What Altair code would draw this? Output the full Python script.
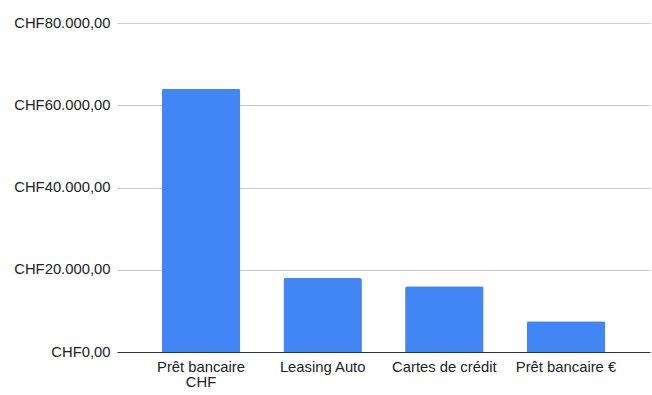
import altair as alt
import pandas as pd

categories = ["Prêt bancaire CHF", "Leasing Auto", "Cartes de crédit", "Prêt bancaire €"]
values = [64000, 18000, 16000, 7500]
y_ticks = [0, 20000, 40000, 60000, 80000]

df = pd.DataFrame({"cat": categories, "val": values})

FONT = "Liberation Sans"
FS = 14.8

chart = (
    alt.Chart(df)
    .mark_bar(color="#4285F4", cornerRadiusTopLeft=2, cornerRadiusTopRight=2)
    .encode(
        x=alt.X(
            "cat:N",
            sort=categories,
            title=None,
            scale=alt.Scale(paddingInner=0.355, paddingOuter=0.368),
            axis=alt.Axis(
                labelAngle=0,
                ticks=False,
                domainColor="#333333",
                domainWidth=1,
                labelFont=FONT,
                labelFontSize=FS,
                labelColor="#222222",
                labelPadding=7,
                labelLineHeight=15,
                labelExpr="datum.label == 'Prêt bancaire CHF' ? ['Prêt bancaire', 'CHF'] : datum.label",
            ),
        ),
        y=alt.Y(
            "val:Q",
            title=None,
            scale=alt.Scale(domain=[0, 80000], nice=False),
            axis=alt.Axis(
                values=y_ticks,
                ticks=False,
                domain=False,
                gridColor="#cccccc",
                labelFont=FONT,
                labelFontSize=FS,
                labelColor="#222222",
                labelPadding=7,
                labelExpr="'CHF' + replace(replace(replace(format(datum.value, ',.2f'), ',', '#'), '.', ','), '#', '.')",
            ),
        ),
    )
    .properties(
        width=533,
        height=329,
        autosize=alt.AutoSizeParams(type="none"),
        padding={"left": 117, "top": 23, "right": 2, "bottom": 43},
    )
    .configure_view(stroke=None)
)

chart.save("out.html", embed_options={"renderer": "svg", "actions": False})
